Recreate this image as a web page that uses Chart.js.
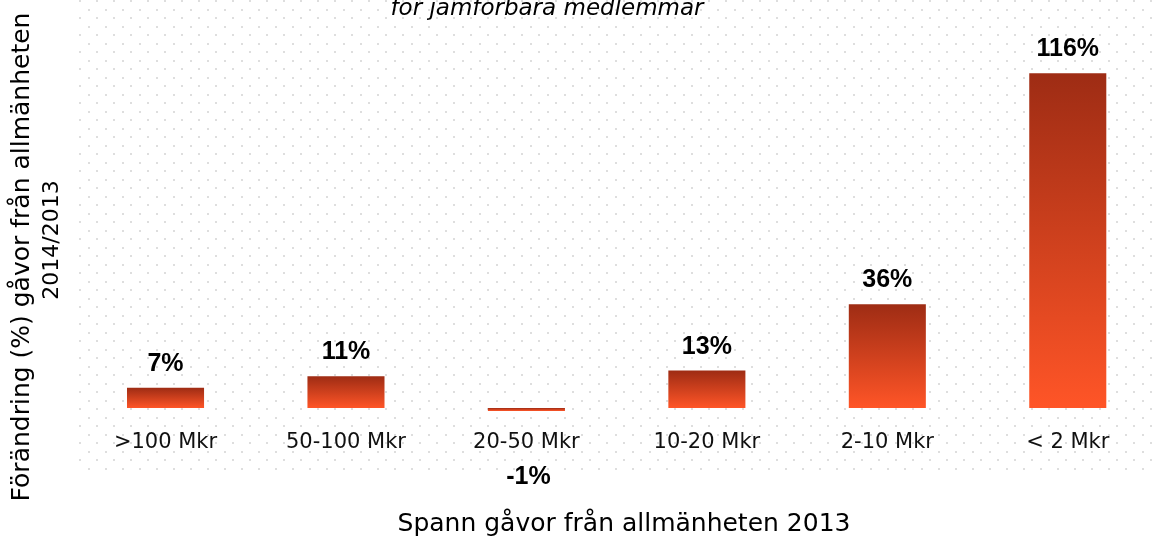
<!DOCTYPE html>
<html>
<head>
<meta charset="utf-8">
<script src="https://cdn.jsdelivr.net/npm/chart.js@4"></script>
<style>
  html, body { margin: 0; padding: 0; background: #ffffff; overflow: hidden; }
  #wrap { position: relative; width: 1160px; height: 538px; }
</style>
</head>
<body>
<div id="wrap"><canvas id="c"></canvas></div>
<script>
// ---- data ----
const categories = [">100 Mkr", "50-100 Mkr", "20-50 Mkr", "10-20 Mkr", "2-10 Mkr", "< 2 Mkr"];
const changeValues = [7, 11, -1, 13, 36, 116];
const valueLabels = ["7%", "11%", "-1%", "13%", "36%", "116%"];
const subtitleText = "för jämförbara medlemmar";
const yTitleLines = ["Förändring (%) gåvor från allmänheten", "2014/2013"];
const xTitleText = "Spann gåvor från allmänheten 2013";

const AXIS_FONT = '"DejaVu Sans", sans-serif';

const dotPattern = {
  id: 'dotPattern',
  beforeDraw(chart) {
    const ctx = chart.ctx;
    ctx.save();
    ctx.fillStyle = '#dedede';
    const x0 = 79, y0 = 102, dx = 17, dy = 8.5;
    const right = chart.width, bottom = 470;
    let j = Math.floor((0 - y0) / dy);
    for (; y0 + j * dy <= bottom; j++) {
      const y = y0 + j * dy;
      if (y < 0) continue;
      const off = (Math.abs(j) % 2 === 1) ? dx / 2 : 0;
      for (let x = x0 + off; x < right; x += dx) {
        ctx.fillRect(Math.round(x), Math.round(y), 2, 2);
      }
    }
    ctx.restore();
  }
};

const textPlugin = {
  id: 'textPlugin',
  afterDraw(chart) {
    const ctx = chart.ctx;
    ctx.save();
    ctx.fillStyle = '#000000';
    // subtitle (top, partly cut)
    ctx.font = 'italic 23px ' + AXIS_FONT;
    ctx.textAlign = 'center';
    ctx.textBaseline = 'alphabetic';
    ctx.fillText(subtitleText, 547, 15);
    // x title
    ctx.font = '25px ' + AXIS_FONT;
    ctx.fillText(xTitleText, 624, 531);
    // y title (rotated)
    ctx.save();
    ctx.font = '25px ' + AXIS_FONT;
    ctx.translate(22, 257);
    ctx.rotate(-Math.PI / 2);
    ctx.textBaseline = 'middle';
    ctx.fillText(yTitleLines[0], 0, 0);
    ctx.restore();
    ctx.save();
    ctx.font = '22px ' + AXIS_FONT;
    ctx.translate(52, 240);
    ctx.rotate(-Math.PI / 2);
    ctx.textBaseline = 'middle';
    ctx.fillText(yTitleLines[1], 0, 0);
    ctx.restore();
    // data labels
    const meta = chart.getDatasetMeta(0);
    ctx.font = 'bold 25px "Liberation Sans", Arial, sans-serif';
    ctx.textAlign = 'center';
    ctx.textBaseline = 'alphabetic';
    meta.data.forEach((bar, i) => {
      const v = changeValues[i];
      if (v >= 0) {
        ctx.fillText(valueLabels[i], bar.x, bar.y - 17);
      } else {
        ctx.fillText(valueLabels[i], bar.x + 2, bar.y + 73);
      }
    });
    ctx.restore();
  }
};

new Chart(document.getElementById('c'), {
  type: 'bar',
  data: {
    labels: categories,
    datasets: [{
      data: changeValues,
      borderWidth: 0,
      barPercentage: 0.427,
      categoryPercentage: 1.0,
      backgroundColor: (c) => {
        const chart = c.chart;
        if (!chart.chartArea || c.raw === undefined) return '#F0552A';
        const ys = chart.scales.y;
        const top = ys.getPixelForValue(Math.max(c.raw, 0));
        const bot = ys.getPixelForValue(Math.min(c.raw, 0));
        const g = chart.ctx.createLinearGradient(0, top, 0, bot);
        g.addColorStop(0, '#9E2C14');
        g.addColorStop(1, '#FF5527');
        return g;
      }
    }]
  },
  options: {
    responsive: true,
    maintainAspectRatio: false,
    animation: false,
    layout: { padding: { left: 75.3, right: 2, top: 20, bottom: 0 } },
    plugins: {
      legend: { display: false },
      title: { display: false },
      tooltip: { enabled: false }
    },
    scales: {
      x: {
        grid: { display: false },
        border: { display: false },
        ticks: {
          color: '#111111',
          padding: 8,
          font: { family: AXIS_FONT, size: 21 }
        },
        afterFit: (s) => { s.height = 124.2; }
      },
      y: {
        min: -2,
        max: 134.5,
        border: { display: false },
        ticks: { display: false, stepSize: 10 },
        grid: {
          drawTicks: false,
          lineWidth: 2,
          color: (c) => (c.tick && c.tick.value === 0) ? '#d9d9d9' : 'rgba(0,0,0,0)'
        },
        afterFit: (s) => { s.width = 0; }
      }
    }
  },
  plugins: [dotPattern, textPlugin]
});
</script>
</body>
</html>
